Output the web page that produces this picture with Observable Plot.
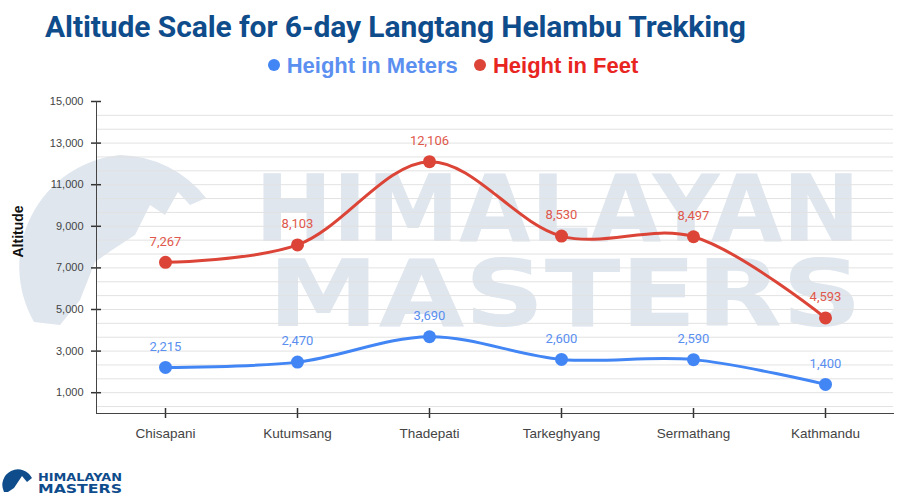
<!DOCTYPE html>
<html>
<head>
<meta charset="utf-8">
<script src="https://cdn.jsdelivr.net/npm/d3@7"></script>
<script src="https://cdn.jsdelivr.net/npm/@observablehq/plot@0.6"></script>
<style>
  html, body { margin: 0; padding: 0; background: #fff; }
  #wrap { position: relative; width: 900px; height: 500px; overflow: hidden; }
  #bg { position: absolute; left: 0; top: 0; }
  #header { position: relative; height: 90px; }
  #title { position: absolute; left: 45px; top: 9px; font-family: Roboto, sans-serif; font-weight: 700;
           font-size: 30px; color: #0f4c8c; white-space: nowrap; transform-origin: left top; transform: scaleX(1.0); letter-spacing: -0.1px; }
  #legend { position: absolute; left: 3px; width: 900px; top: 53px; text-align: center; font-family: "Liberation Sans", Arial, sans-serif;
            font-weight: 700; font-size: 22px; white-space: nowrap; }
  #legend span.item { display: inline-block; margin: 0 5px; }
  #legend span.dot { display: inline-block; width: 12px; height: 12px; border-radius: 50%; margin-right: 7px; vertical-align: 2px; }
  #chart { position: relative; }
  #chart svg { background: transparent !important; }
</style>
</head>
<body>
<div id="wrap">
  <svg id="bg" width="900" height="500">
    <!-- watermark logo circle -->
    <path d="M120,155 A112,112 0 0 1 206,198 L190,205 L178,192 L165,215 L150,205 L135,235 L112,250 L95,262 L80,300 L60,325 L34,322 A112,112 0 0 1 120,155 Z" fill="#dfe6ee"/>
    <text x="255" y="241" textLength="605" lengthAdjust="spacingAndGlyphs" font-family="DejaVu Sans" font-weight="bold" font-size="92" fill="#dfe6ee">HIMALAYAN</text>
    <text x="268" y="326" textLength="594" lengthAdjust="spacingAndGlyphs" font-family="DejaVu Sans" font-weight="bold" font-size="92" fill="#dfe6ee">MASTERS</text>
    <!-- bottom logo -->
    <path d="M4,492 A15,15 0 0 1 32,478 L27,482 L22,476 L14,488 L8,492 Z" fill="#0f4c8c"/>
    <text x="38" y="481" textLength="84" lengthAdjust="spacingAndGlyphs" font-family="DejaVu Sans" font-weight="bold" font-size="11" fill="#0f4c8c">HIMALAYAN</text>
    <text x="38" y="493" textLength="84" lengthAdjust="spacingAndGlyphs" font-family="DejaVu Sans" font-weight="bold" font-size="13" fill="#0f4c8c">MASTERS</text>
  </svg>
  <div id="header">
    <div id="title">Altitude Scale for 6-day Langtang Helambu Trekking</div>
    <div id="legend">
      <span class="item" style="color:#5b8ff0"><span class="dot" style="background:#4285f4"></span>Height in Meters</span>
      <span class="item" style="color:#e8251f"><span class="dot" style="background:#db4437"></span>Height in Feet</span>
    </div>
  </div>
  <div id="chart"></div>
</div>
<script>
const places = ["Chisapani", "Kutumsang", "Thadepati", "Tarkeghyang", "Sermathang", "Kathmandu"];
const meters = [2215, 2470, 3690, 2600, 2590, 1400];
const feet = [7267, 8103, 12106, 8530, 8497, 4593];
const yTicks = [1000, 3000, 5000, 7000, 9000, 11000, 13000, 15000];
const yGrid = d3.range(0, 22).map(i => 1000 + (i - 1) * 2000 / 3).filter(v => v > 0 && v <= 15000.5);

const blue = "#4285f4", red = "#db4437";
const mData = places.map((p, i) => ({place: p, value: meters[i]}));
const fData = places.map((p, i) => ({place: p, value: feet[i]}));

const chart = Plot.plot({
  width: 900,
  height: 410,
  marginTop: 11,
  marginBottom: 87,
  marginLeft: 96,
  marginRight: 7,
  style: {fontFamily: "'Liberation Sans', Arial, sans-serif", fontSize: "11px", color: "#444", background: "transparent"},
  x: {type: "point", domain: places, padding: 0.5, label: null},
  y: {domain: [0, 15000], label: null},
  marks: [
    Plot.ruleY(yGrid, {stroke: "#e2e2e2", strokeWidth: 1}),
    Plot.axisY({ticks: yTicks, tickFormat: d3.format(","), tickSize: 10, dx: 5, tickPadding: 8, label: null, stroke: "#333", strokeWidth: 1.5, fill: "#444"}),
    Plot.axisX({tickSize: 10, dy: -5, tickPadding: 10, label: null, stroke: "#333", strokeWidth: 1.5, fill: "#444", fontSize: 13.5}),
    Plot.frame({anchor: "left", stroke: "#444"}),
    Plot.frame({anchor: "bottom", stroke: "#444"}),
    Plot.text(["Altitude"], {frameAnchor: "left", rotate: -90, dx: -78, fontWeight: "bold", fontSize: 14, fill: "#111"}),
    Plot.line(fData, {x: "place", y: "value", stroke: red, strokeWidth: 3, curve: "catmull-rom"}),
    Plot.line(mData, {x: "place", y: "value", stroke: blue, strokeWidth: 3, curve: "catmull-rom"}),
    Plot.dot(fData, {x: "place", y: "value", fill: red, r: 6.5}),
    Plot.dot(mData, {x: "place", y: "value", fill: blue, r: 6.5}),
    Plot.text(fData, {x: "place", y: "value", text: d => d3.format(",")(d.value), dy: -21, fill: "#e0584c", fontSize: 13, fontFamily: "Roboto, sans-serif"}),
    Plot.text(mData, {x: "place", y: "value", text: d => d3.format(",")(d.value), dy: -21, fill: "#5a8ff0", fontSize: 13, fontFamily: "Roboto, sans-serif"})
  ]
});
document.getElementById("chart").appendChild(chart);
</script>
</body>
</html>
